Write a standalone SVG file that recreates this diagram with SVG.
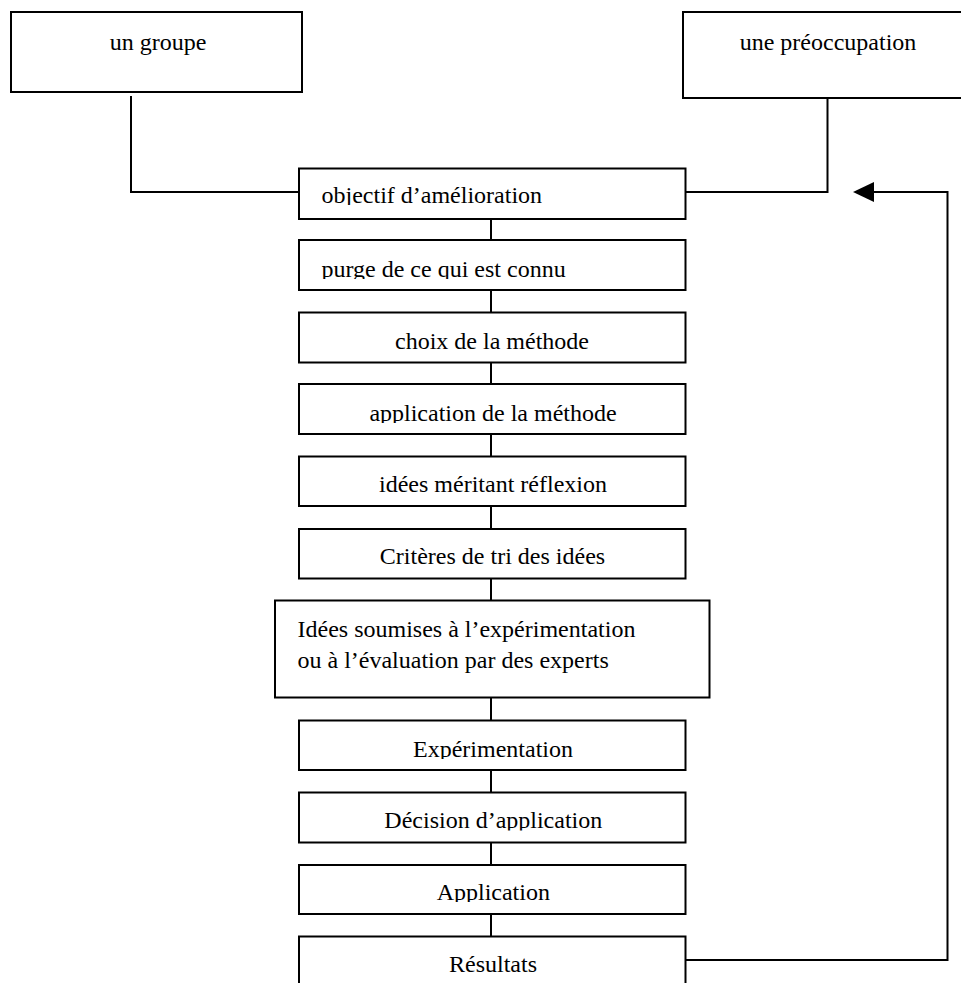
<svg xmlns="http://www.w3.org/2000/svg" width="961" height="983" viewBox="0 0 961 983" font-family="'Liberation Serif', 'Times New Roman', Times, serif">
<style>
rect.b{fill:#fff;stroke:#000;stroke-width:2}
text{font-family:'Liberation Serif','Times New Roman',Times,serif;font-size:24px;fill:#000}
.c{text-anchor:middle}
#connectors path{fill:none;stroke:#000;stroke-width:2}
</style>
<defs>
<marker id="arr" markerUnits="userSpaceOnUse" markerWidth="22" markerHeight="22" viewBox="0 0 22 22" refX="1" refY="11" orient="auto">
<path d="M0,1 L21,11 L0,21 Z" fill="#000"/>
</marker>
<clipPath id="k1"><rect x="0" y="0" width="961" height="205"/></clipPath>
<clipPath id="k2"><rect x="0" y="0" width="961" height="279"/></clipPath>
<clipPath id="k4"><rect x="0" y="0" width="961" height="423"/></clipPath>
<clipPath id="k8"><rect x="0" y="0" width="961" height="759"/></clipPath>
<clipPath id="k9"><rect x="0" y="0" width="961" height="830.5"/></clipPath>
<clipPath id="k10"><rect x="0" y="0" width="961" height="902"/></clipPath>
</defs>
<rect width="961" height="983" fill="#fff"/>
<g id="connectors">
<path d="M131,96 V192 H300"/>
<path d="M827.5,98 V192 H683"/>
<path d="M491,219 V240 M491,290 V312 M491,362 V384 M491,434 V457 M491,506 V529 M491,578 V601 M491,698 V721 M491,770 V793 M491,843 V865 M491,914 V937"/>
<path d="M683,960 H947.5 V192 H873" marker-end="url(#arr)"/>
</g>
<g id="n-groupe"><rect class="b" x="11" y="12" width="291" height="80"/><text class="c" x="158" y="50">un groupe</text></g>
<g id="n-preoccupation"><rect class="b" x="683" y="12" width="290" height="86"/><text class="c" x="828" y="50">une préoccupation</text></g>
<g id="n-objectif"><rect class="b" x="299" y="168.5" width="386.5" height="50.5"/><text x="321.5" y="203" clip-path="url(#k1)">objectif d’amélioration</text></g>
<g id="n-purge"><rect class="b" x="299" y="240" width="386.5" height="50"/><text x="321.5" y="277" clip-path="url(#k2)">purge de ce qui est connu</text></g>
<g id="n-choix"><rect class="b" x="299" y="312.5" width="386.5" height="50"/><text class="c" x="492" y="349">choix de la méthode</text></g>
<g id="n-application-methode"><rect class="b" x="299" y="384" width="386.5" height="50"/><text class="c" x="493" y="421" clip-path="url(#k4)">application de la méthode</text></g>
<g id="n-idees"><rect class="b" x="299" y="456.5" width="386.5" height="49.5"/><text class="c" x="493" y="492">idées méritant réflexion</text></g>
<g id="n-criteres"><rect class="b" x="299" y="529" width="386.5" height="49.5"/><text class="c" x="492.5" y="564">Critères de tri des idées</text></g>
<g id="n-soumises"><rect class="b" x="275" y="600.5" width="434.5" height="97"/><text x="297.5" y="637">Idées soumises à l’expérimentation</text><text x="297.5" y="667.5">ou à l’évaluation par des experts</text></g>
<g id="n-experimentation"><rect class="b" x="299" y="720.5" width="386.5" height="49.5"/><text class="c" x="493" y="757" clip-path="url(#k8)">Expérimentation</text></g>
<g id="n-decision"><rect class="b" x="299" y="792.5" width="386.5" height="50"/><text class="c" x="493.3" y="828" clip-path="url(#k9)">Décision d’application</text></g>
<g id="n-application"><rect class="b" x="299" y="865" width="386.5" height="49"/><text class="c" x="493.3" y="900" clip-path="url(#k10)">Application</text></g>
<g id="n-resultats"><rect class="b" x="299" y="936.5" width="386.5" height="60"/><text class="c" x="493" y="971.5">Résultats</text></g>
</svg>
